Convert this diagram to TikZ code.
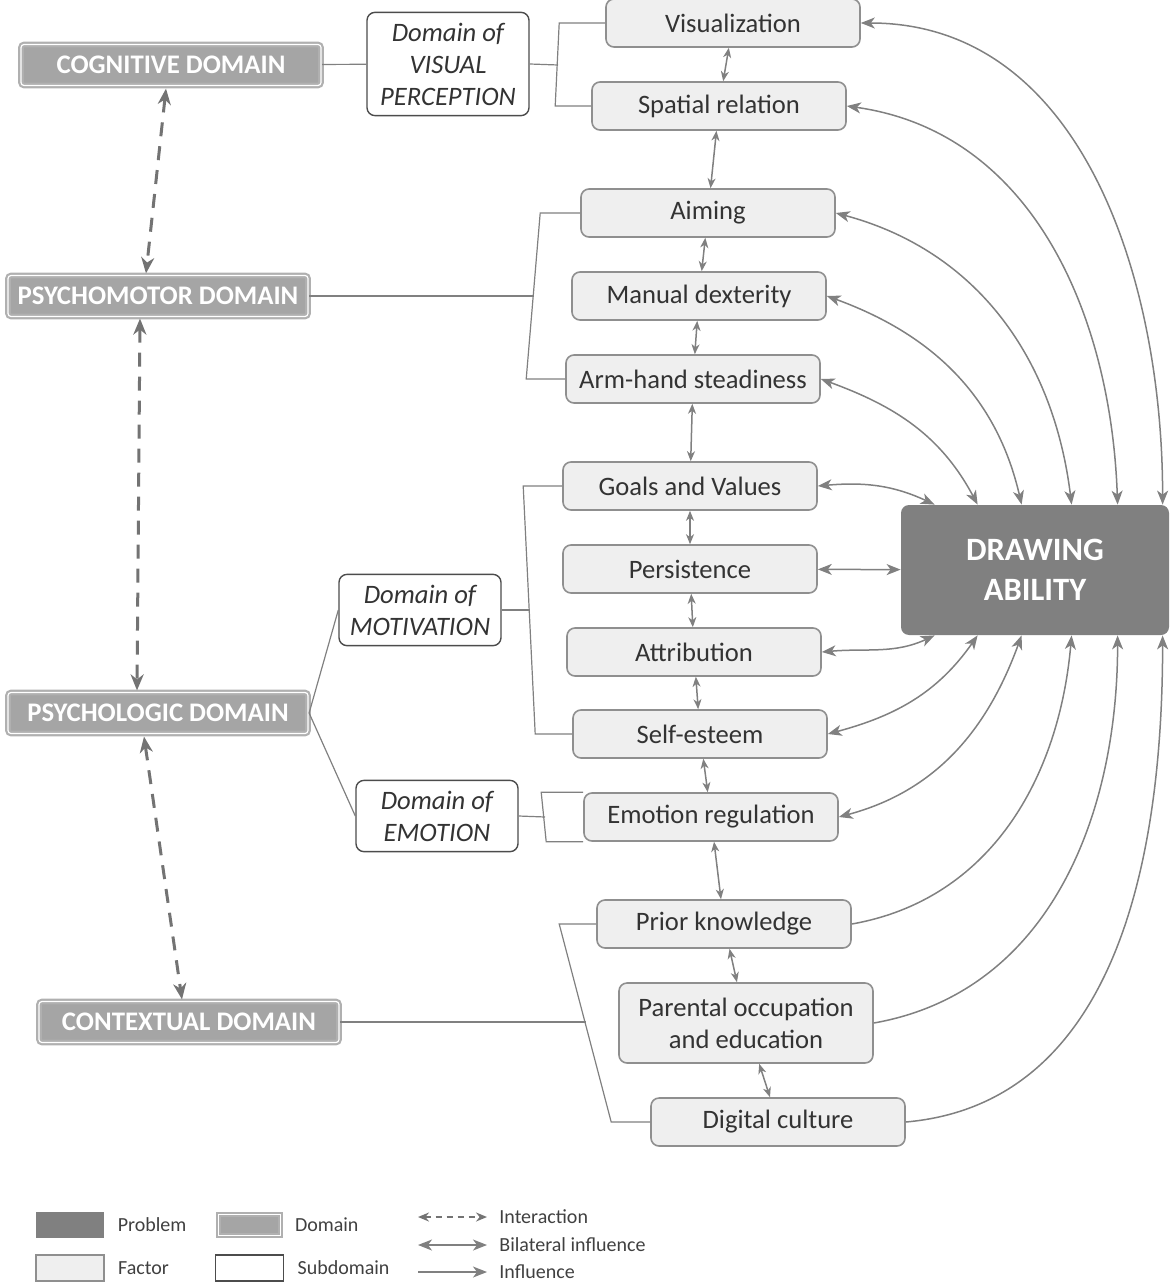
\documentclass[tikz,border=0pt]{standalone}
\usepackage{fontspec}
\setmainfont{Carlito}
\usetikzlibrary{arrows.meta,calc,positioning}

\definecolor{txt}{HTML}{333333}
\definecolor{ln}{HTML}{808080}
\definecolor{factfill}{HTML}{EFEFEF}
\definecolor{factdraw}{HTML}{8F8F8F}
\definecolor{domfill}{HTML}{A5A5A5}
\definecolor{domdraw}{HTML}{B0B0B0}
\definecolor{probfill}{HTML}{808080}

\begin{document}
\begin{tikzpicture}[
  x=0.5pt, y=-0.5pt,
  font=\fontsize{13.3}{16}\selectfont, text=txt,
  factor/.style={rounded corners=4pt, draw=factdraw, line width=0.8pt, fill=factfill, minimum width=127pt, minimum height=24pt, inner sep=2pt, align=center},
  subdom/.style={rounded corners=4pt, draw=black!70, line width=0.7pt, fill=white, minimum width=81pt, inner xsep=3pt, inner ysep=5.2pt, align=center, font=\fontsize{13.3}{16}\selectfont\itshape},
  dombox/.style={rounded corners=1.5pt, draw=domdraw, double=white, double distance=0.6pt, line width=1.1pt, fill=domfill, minimum width=150pt, minimum height=20.5pt, text=white, font=\fontsize{13.4}{15}\selectfont\bfseries},
  problem/.style={rounded corners=4pt, fill=probfill, minimum width=134pt, minimum height=65pt, align=center, text=white, font=\fontsize{16.3}{20}\selectfont\bfseries},
  legtxt/.style={inner sep=0pt, anchor=west, text=black!75, font=\fontsize{10}{12}\selectfont},
  tree/.style={draw=ln, line width=0.6pt},
  bil/.style={{Stealth[length=7pt,width=5.5pt,inset=2pt]}-{Stealth[length=7pt,width=5.5pt,inset=2pt]}, draw=ln, line width=0.75pt},
  smallarr/.style={{Stealth[length=5pt,width=4pt,inset=1.5pt]}-{Stealth[length=5pt,width=4pt,inset=1.5pt]}, draw=ln, line width=0.75pt},
  infl/.style={-{Stealth[length=7pt,width=5.5pt,inset=2pt]}, draw=ln, line width=0.75pt},
  inter/.style={{Stealth[length=8pt,width=6.5pt,inset=2.5pt]}-{Stealth[length=8pt,width=6.5pt,inset=2.5pt]}, draw=ln!90!black, line width=1.5pt, dash pattern=on 7pt off 5pt},
]
  \useasboundingbox (0,0) rectangle (1172,1283);

  % factors
  \node[factor] (vis) at (733,23) {Visualization};
  \node[factor] (spa) at (719,106) {Spatial relation};
  \node[factor] (aim) at (708,213) {Aiming};
  \node[factor] (man) at (699,296) {Manual dexterity};
  \node[factor] (arm) at (693,379) {Arm-hand steadiness};
  \node[factor] (goa) at (690,486) {Goals and Values};
  \node[factor] (per) at (690,569) {Persistence};
  \node[factor] (att) at (694,652) {Attribution};
  \node[factor] (sel) at (700,734) {Self-esteem};
  \node[factor] (emo) at (711,817) {Emotion regulation};
  \node[factor] (pri) at (724,924) {Prior knowledge};
  \node[factor, minimum height=40pt] (par) at (746,1023) {Parental occupation\\and education};
  \node[factor] (dig) at (778,1122) {Digital culture};

  \node[problem] (da) at (1035,570) {DRAWING\\ABILITY};

  % domains and subdomains
  \node[dombox] (cog) at (171,65) {COGNITIVE DOMAIN};
  \node[dombox] (psm) at (158,296) {PSYCHOMOTOR DOMAIN};
  \node[dombox] (psl) at (158,713) {PSYCHOLOGIC DOMAIN};
  \node[dombox] (ctx) at (189,1022) {CONTEXTUAL DOMAIN};

  \node[subdom] (vp) at (448,64) {Domain of\\VISUAL\\PERCEPTION};
  \node[subdom] (mot) at (420,610) {Domain of\\MOTIVATION};
  \node[subdom] (emd) at (437,816) {Domain of\\EMOTION};

  % tree lines
  \coordinate (jvp) at (558,65);
  \coordinate (jpm) at (534,296);
  \coordinate (jmo) at (530,610);
  \coordinate (jem) at (545,817);
  \coordinate (jcx) at (586,1022);

  \draw[tree] (cog) -- (vp);
  \draw[tree] (vp.east) -- (jvp);
  \draw[tree] (vis.west) -- ++(-46,0) -- ($(spa.west)+(-36,0)$) -- (spa.west);
  \draw[tree] (psm) -- (jpm);
  \draw[tree] (aim.west) -- ++(-40,0) -- ($(arm.west)+(-39,0)$) -- (arm.west);
  \draw[tree] (mot.west) -- (psl.east) -- (emd.west);
  \draw[tree] (mot.east) -- (jmo);
  \draw[tree] (goa.west) -- ++(-39,0) -- ($(sel.west)+(-37,0)$) -- (sel.west);
  \draw[tree] (emd.east) -- (jem);
  \draw[tree] (emo.north west) -- ++(-42,0) -- ($(emo.south west)+(-37,0)$) -- (emo.south west);
  \draw[tree] (ctx) -- (jcx);
  \draw[tree] (pri.west) -- ++(-37,0) -- ($(dig.west)+(-39,0)$) -- (dig.west);

  % links between factors
  \foreach \a/\b in {vis/spa, spa/aim, aim/man, man/arm, arm/goa, goa/per, per/att, att/sel, sel/emo, emo/pri, pri/par, par/dig}
    \draw[smallarr] (\a) -- (\b);

  % links to the problem
  \draw[bil] (vis.east) to[out=0, in=90] ($(da.north west)+(262,0)$);
  \draw[bil] (spa.east) to[out=-8, in=92] ($(da.north west)+(217,0)$);
  \draw[bil] (aim.east) to[out=-15, in=97] ($(da.north west)+(171,0)$);
  \draw[bil] (man.east) to[out=-20, in=103] ($(da.north west)+(121,0)$);
  \draw[bil] (arm.east) to[out=-20, in=118] ($(da.north west)+(77,0)$);
  \draw[bil] (goa.east) to[out=5, in=155] ($(da.north west)+(34,0)$);
  \draw[bil] (per) -- (da);
  \draw[bil] (att.east) to[out=5, in=205] ($(da.south west)+(34,0)$);
  \draw[bil] (sel.east) to[out=15, in=-125] ($(da.south west)+(77,0)$);
  \draw[bil] (emo.east) to[out=15, in=-110] ($(da.south west)+(121,0)$);
  \draw[infl] (pri.east) to[out=10, in=-95] ($(da.south west)+(171,0)$);
  \draw[infl] (par.east) to[out=10, in=-90] ($(da.south west)+(217,0)$);
  \draw[infl] (dig.east) to[out=5, in=-90] ($(da.south west)+(262,0)$);

  % interactions between domains
  \draw[inter] ($(cog.south)+(-5,2)$) -- ($(psm.north)+(-12,-1)$);
  \draw[inter] ($(psm.south)+(-18,1)$) -- ($(psl.north)+(-21,-1)$);
  \draw[inter] ($(psl.south)+(-14,2)$) -- ($(ctx.north)+(-7,-1)$);

  % legend
  \node[fill=probfill, minimum width=34pt, minimum height=13pt] (lprob) at (70,1225) {};
  \node[legtxt, right=6.5pt of lprob] {Problem};
  \node[dombox, rounded corners=0pt, minimum width=31pt, minimum height=10.5pt] (ldom) at (249.5,1225) {};
  \node[legtxt, right=6.5pt of ldom] {Domain};
  \node[factor, rounded corners=0pt, minimum width=34pt, minimum height=13pt] (lfac) at (70,1268) {};
  \node[legtxt, right=6.5pt of lfac] {Factor};
  \node[subdom, rounded corners=0pt, minimum width=34pt, minimum height=13pt, inner sep=0pt] (lsub) at (249.5,1268) {};
  \node[legtxt, right=6.5pt of lsub] {Subdomain};

  \node[legtxt] (linter) at (499,1217) {Interaction};
  \node[legtxt] (lbil) at (499,1245) {Bilateral influence};
  \node[legtxt] (linfl) at (499,1272) {Influence};
  \coordinate (l1) at (418,1217);
  \coordinate (l2) at (418,1245);
  \coordinate (l3) at (418,1272);
  \draw[inter, line width=1.1pt, dash pattern=on 3pt off 2.5pt, {Stealth[length=5.5pt,width=4.5pt,inset=1.8pt]}-{Stealth[length=5.5pt,width=4.5pt,inset=1.8pt]}] (l1) -- ([xshift=-6pt]linter.west);
  \draw[bil] (l2) -- ([xshift=-6pt]lbil.west);
  \draw[infl] (l3) -- ([xshift=-6pt]linfl.west);
\end{tikzpicture}
\end{document}
